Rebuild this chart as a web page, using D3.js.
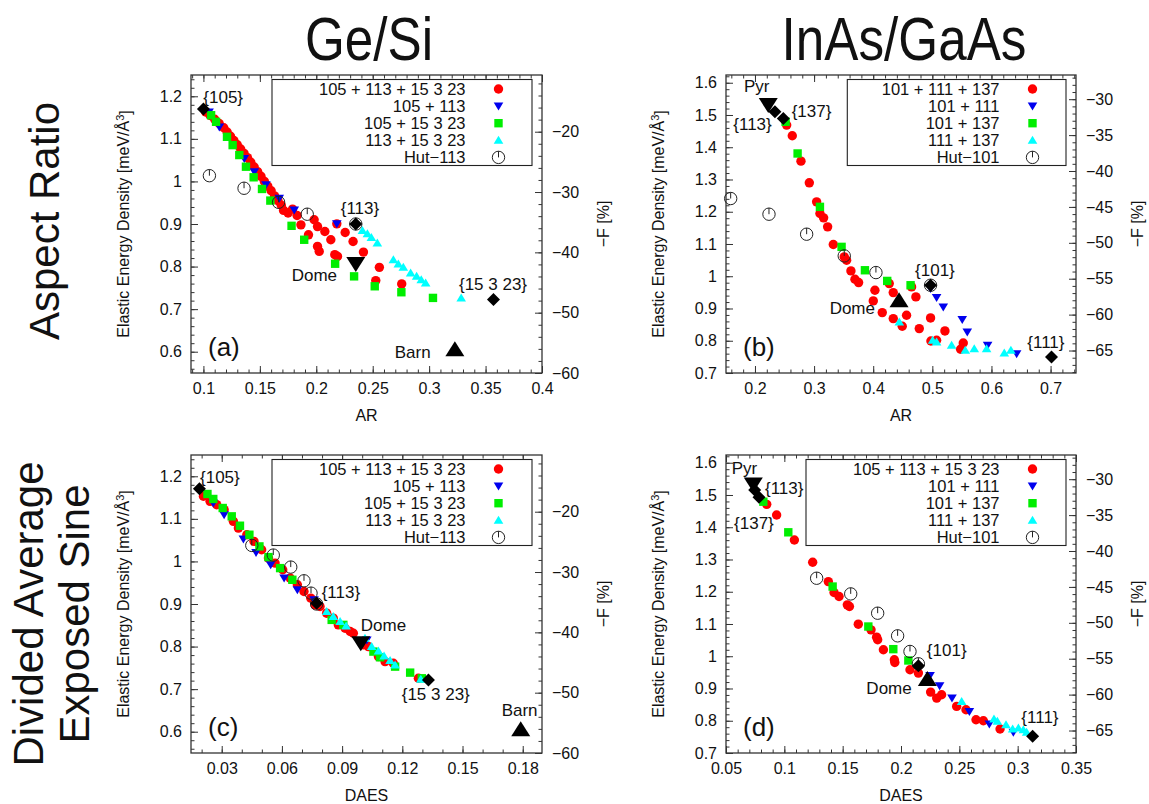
<!DOCTYPE html>
<html>
<head>
<meta charset="utf-8">
<script src="https://cdn.jsdelivr.net/npm/d3@7"></script>
<style>
  body { margin: 0; background: #fff; }
  svg { display: block; }
  text { font-family: "Liberation Sans", Arial, sans-serif; fill: #111; }
</style>
</head>
<body>
<svg id="fig" width="1149" height="804"></svg>
<script>
// ---------------- tick values ----------------
const geYTicks = [0.6, 0.7, 0.8, 0.9, 1.0, 1.1, 1.2];
const geFTicks = [-60, -50, -40, -30, -20];
const inYTicks = [0.7, 0.8, 0.9, 1.0, 1.1, 1.2, 1.3, 1.4, 1.5, 1.6];
const inFTicks = [-65, -60, -55, -50, -45, -40, -35, -30];
const arGeTicks = [0.1, 0.15, 0.2, 0.25, 0.3, 0.35, 0.4];
const arInTicks = [0.2, 0.3, 0.4, 0.5, 0.6, 0.7];
const daesGeTicks = [0.03, 0.06, 0.09, 0.12, 0.15, 0.18];
const daesInTicks = [0.05, 0.1, 0.15, 0.2, 0.25, 0.3, 0.35];

// ---------------- legend entries ----------------
const geLegend = ["105 + 113 + 15 3 23", "105 + 113", "105 + 15 3 23", "113 + 15 3 23", "Hut\u2212113"];
const inLegendB = ["101 + 111 + 137", "101 + 111", "101 + 137", "111 + 137", "Hut\u2212101"];
const inLegendD = ["105 + 113 + 15 3 23", "101 + 111", "101 + 137", "111 + 137", "Hut\u2212101"];

// ---------------- (a) Ge/Si, aspect ratio ----------------
const aRed = [[0.102,1.163],[0.106,1.155],[0.110,1.146],[0.114,1.136],[0.118,1.126],[0.121,1.116],[0.124,1.106],[0.127,1.096],[0.130,1.086],[0.133,1.076],[0.136,1.066],[0.139,1.056],[0.142,1.045],[0.145,1.034],[0.148,1.023],[0.151,1.012],[0.154,1.000],[0.157,0.989],[0.160,0.978],[0.163,0.966],[0.166,0.955],[0.169,0.944],[0.171,0.932],[0.175,0.926],[0.179,0.935],[0.183,0.920],[0.1864,0.898],[0.1981,0.910],[0.2011,0.894],[0.2076,0.8825],[0.1931,0.8746],[0.2011,0.8473],[0.2026,0.8356],[0.2129,0.8629],[0.2164,0.828],[0.2188,0.8239],[0.2182,0.9004],[0.2256,0.8801],[0.2326,0.859],[0.2418,0.834],[0.2559,0.7982],[0.2527,0.767],[0.2757,0.7592]];
const aBlue = [[0.105,1.163],[0.1141,1.128],[0.1362,1.054],[0.1451,1.023],[0.1554,0.992],[0.1672,0.9605],[0.1805,0.933],[0.2182,0.9004]];
const aGreen = [[0.1068,1.1555],[0.1112,1.140],[0.1209,1.1048],[0.1259,1.0853],[0.1318,1.062],[0.1377,1.0346],[0.1445,1.0097],[0.1519,0.9823],[0.1593,0.955],[0.1781,0.8957],[0.1893,0.863],[0.2167,0.8067],[0.2335,0.777],[0.2518,0.7537],[0.2754,0.7397],[0.3034,0.7264]];
const aCyan = [[0.2409,0.8848],[0.2453,0.877],[0.2488,0.8684],[0.2541,0.8551],[0.2683,0.8161],[0.2727,0.806],[0.2771,0.7982],[0.2836,0.7849],[0.2889,0.7771],[0.2930,0.7693],[0.2969,0.7615],[0.3284,0.7264]];
const aHut = [[0.1053,1.0135],[0.136,0.984],[0.1666,0.951],[0.192,0.923],[0.235,0.900]];
const aShapes = [["diamond",0.1,1.17],["diamond",0.235,0.900],["diamond",0.357,0.7225],["down",0.235,0.806],["up",0.3228,0.6055]];
const aNotes = [["{105}",0.0999,1.199],["{113}",0.2387,0.9383],["Dome",0.2184,0.780],["{15 3 23}",0.3566,0.759],["Barn",0.2854,0.600]];

// ---------------- (b) InAs/GaAs, aspect ratio ----------------
const bRed = [[0.2536,1.4686],[0.2631,1.4355],[0.2778,1.3569],[0.2919,1.2897],[0.3043,1.2307],[0.3099,1.1945],[0.3161,1.181],[0.3229,1.1531],[0.3325,1.0983],[0.351,1.06],[0.355,1.0497],[0.3623,1.0166],[0.3691,0.9907],[0.3753,0.9804],[0.4001,0.9235],[0.4029,0.9566],[0.4153,0.8873],[0.4271,0.9773],[0.4339,0.9493],[0.4339,0.8687],[0.4491,0.8448],[0.4564,0.879],[0.4649,0.9669],[0.4722,0.9359],[0.4779,0.8376],[0.4970,0.8707],[0.4976,0.7993],[0.5072,0.8014],[0.5213,0.8304],[0.5523,0.7931],[0.5478,0.7735]];
const bBlue = [[0.497,0.9617],[0.5072,0.9338],[0.5185,0.9049],[0.5506,0.8655],[0.5591,0.8273],[0.5935,0.7859],[0.6426,0.76]];
const bGreen = [[0.2518,1.479],[0.2721,1.3807],[0.3099,1.2152],[0.3465,1.0911],[0.386,1.0186],[0.4237,0.9855],[0.4632,0.9721]];
const bCyan = [[0.4441,0.8583],[0.5005,0.8014],[0.5072,0.7962],[0.5326,0.7859],[0.5557,0.7704],[0.5709,0.7755],[0.5918,0.7755],[0.6217,0.7621],[0.6329,0.7704]];
const bHut = [[0.1589,1.241],[0.2237,1.1924],[0.2874,1.1304],[0.351,1.0631],[0.4046,1.0114],[0.497,0.9721]];
const bShapes = [["down",0.2225,1.5307],["diamond",0.2338,1.510],["diamond",0.2479,1.4893],["diamond",0.497,0.972],["diamond",0.7016,0.7497],["up",0.4437,0.9255]];
const bNotes = [["Pyr",0.1814,1.5905],["{113}",0.1633,1.4729],["{137}",0.2621,1.5114],["{101}",0.5044,1.0193],["Dome",0.403,0.9006],["{111}",0.6921,0.797]];

// ---------------- (c) Ge/Si, DAES ----------------
const cRed = [[0.0209,1.153],[0.0242,1.1412],[0.0275,1.1333],[0.0312,1.1216],[0.0358,1.0941],[0.0383,1.0784],[0.0425,1.0627],[0.0461,1.0471],[0.0499,1.0275],[0.0533,1.0078],[0.0566,0.9961],[0.0604,0.9804],[0.0641,0.9608],[0.0677,0.9451],[0.071,0.9294],[0.0744,0.9137],[0.0765,0.898],[0.079,0.8941],[0.0823,0.8784],[0.0856,0.8667],[0.0881,0.851],[0.0915,0.8431],[0.094,0.8353],[0.0956,0.8314],[0.1006,0.8039],[0.1031,0.800],[0.1081,0.7765],[0.1114,0.7647],[0.1155,0.7608],[0.128,0.7255]];
const cBlue = [[0.0258,1.1373],[0.0312,1.1098],[0.0408,1.0525],[0.0471,1.0212],[0.0544,0.9922],[0.0611,0.9608],[0.0677,0.9333],[0.076,0.9098],[0.1023,0.8157]];
const cGreen = [[0.0229,1.1584],[0.0258,1.1467],[0.0305,1.1255],[0.035,1.1059],[0.0391,1.0839],[0.0438,1.0627],[0.0488,1.0353],[0.0533,1.0102],[0.0591,0.9843],[0.0652,0.9569],[0.0848,0.8627],[0.0906,0.851],[0.1056,0.7882],[0.1089,0.7749],[0.1164,0.7529],[0.1239,0.7388],[0.1297,0.7255]];
const cCyan = [[0.0823,0.8824],[0.0856,0.8706],[0.089,0.8588],[0.092,0.8486],[0.1014,0.8196],[0.1047,0.800],[0.1081,0.7898],[0.1109,0.778],[0.1139,0.7671],[0.1164,0.7569],[0.1292,0.7231]];
const cHut = [[0.045,1.0376],[0.0557,1.0149],[0.0644,0.9867],[0.071,0.9545],[0.0745,0.9255],[0.0773,0.900]];
const cShapes = [["diamond",0.0189,1.171],["diamond",0.0773,0.902],["diamond",0.133,0.7216],["down",0.0993,0.808],["up",0.179,0.6055]];
const cNotes = [["{105}",0.0192,1.199],["{113}",0.0798,0.9289],["Dome",0.0993,0.8503],["{15 3 23}",0.1197,0.6886],["Barn",0.1695,0.651]];

// ---------------- (d) InAs/GaAs, DAES ----------------
const dRed = [[0.0849,1.471],[0.0934,1.438],[0.1086,1.3606],[0.1243,1.2914],[0.1377,1.2315],[0.1426,1.1975],[0.1469,1.1851],[0.154,1.1593],[0.1558,1.1541],[0.1634,1.0994],[0.1743,1.0819],[0.1791,1.0592],[0.18,1.051],[0.1849,1.02],[0.1943,0.989],[0.1947,0.9807],[0.2077,0.958],[0.2149,0.9477],[0.2254,0.8889],[0.2306,0.8703],[0.2348,0.8806],[0.2477,0.8445],[0.2557,0.8342],[0.2643,0.8032],[0.2706,0.8001],[0.2849,0.7743]];
const dBlue = [[0.2249,0.9405],[0.2331,0.9085],[0.2437,0.8703],[0.2586,0.829],[0.2757,0.7898],[0.2963,0.764]];
const dGreen = [[0.082,1.4792],[0.1034,1.3843],[0.1414,1.2161],[0.172,1.0922],[0.1934,1.022],[0.2063,0.9869]];
const dCyan = [[0.252,0.86],[0.2797,0.8053],[0.2826,0.7981],[0.29,0.7877],[0.2957,0.7743],[0.3006,0.7774],[0.3049,0.7722],[0.3077,0.764]];
const dHut = [[0.1277,1.2419],[0.1569,1.1933],[0.18,1.1335],[0.1971,1.0633],[0.2077,1.0148],[0.2149,0.9766]];
const dShapes = [["down",0.0734,1.5329],["diamond",0.0746,1.5154],["diamond",0.0783,1.4927],["diamond",0.2149,0.9704],["diamond",0.3128,0.7516],["up",0.2226,0.9291]];
const dNotes = [["Pyr",0.0549,1.5828],["{113}",0.0834,1.5208],["{137}",0.0569,1.4123],["{101}",0.2392,1.0194],["Dome",0.2092,0.9006],["{111}",0.3191,0.8107]];

// ---------------- drawing ----------------
const svg = d3.select("#fig");
const COLORS = { red: "#ff0000", blue: "#0000ee", green: "#00ee00", cyan: "#00ffff" };

function markerPath(kind) {
  switch (kind) {
    case "tri-down": return "M0,4.5L4.8,-3.5L-4.8,-3.5Z";
    case "tri-up": return "M0,-4.5L4.8,3.5L-4.8,3.5Z";
    case "square": return "M-4.2,-4.2H4.2V4.2H-4.2Z";
    case "diamond": return "M0,-6.5L6.5,0L0,6.5L-6.5,0Z";
    case "down": return "M0,8L9.5,-7L-9.5,-7Z";
    case "up": return "M0,-8L9.5,7L-9.5,7Z";
  }
}

function drawMarker(g, kind, x, y, color) {
  if (kind === "circle") {
    g.append("circle").attr("cx", x).attr("cy", y).attr("r", 4.7).attr("fill", color);
  } else if (kind === "hut") {
    g.append("circle").attr("cx", x).attr("cy", y).attr("r", 6.2)
      .attr("fill", "none").attr("stroke", "#222").attr("stroke-width", 1);
    g.append("line").attr("x1", x).attr("y1", y).attr("x2", x).attr("y2", y - 6.2)
      .attr("stroke", "#222").attr("stroke-width", 1);
  } else {
    g.append("path").attr("d", markerPath(kind))
      .attr("transform", `translate(${x},${y})`).attr("fill", color);
  }
}

function minorValues(domain, step) {
  const lo = Math.min(domain[0], domain[1]), hi = Math.max(domain[0], domain[1]);
  const out = [];
  for (let k = Math.ceil(lo / step - 1e-9); k * step <= hi + 1e-9; k++) out.push(k * step);
  return out;
}

function drawPanel(p) {
  const g = svg.append("g");
  const x = d3.scaleLinear().domain(p.xd).range([p.left, p.left + p.w]);
  const y = d3.scaleLinear().domain(p.yd).range([p.top + p.h, p.top]);
  const y2 = d3.scaleLinear().domain(p.y2d).range([p.top + p.h, p.top]);
  const fmt = d3.format("~g");
  const tickStyle = sel => {
    sel.select(".domain").remove();
    sel.selectAll("line").attr("stroke", "#333").attr("stroke-width", 1);
    sel.selectAll("text").attr("font-size", 16).attr("fill", "#111")
      .attr("font-family", "Liberation Sans, Arial, sans-serif");
  };

  // minor ticks
  const minorX = minorValues(p.xd, p.xMinor);
  const minorY = minorValues(p.yd, p.yMinor);
  const minorY2 = minorValues(p.y2d, p.y2Minor);
  g.append("g").attr("transform", `translate(0,${p.top + p.h})`)
    .call(d3.axisBottom(x).tickValues(minorX).tickSize(-3.5).tickFormat("")).call(tickStyle);
  g.append("g").attr("transform", `translate(0,${p.top})`)
    .call(d3.axisTop(x).tickValues(minorX).tickSize(-3.5).tickFormat("")).call(tickStyle);
  g.append("g").attr("transform", `translate(${p.left},0)`)
    .call(d3.axisLeft(y).tickValues(minorY).tickSize(-3.5).tickFormat("")).call(tickStyle);
  g.append("g").attr("transform", `translate(${p.left + p.w},0)`)
    .call(d3.axisRight(y2).tickValues(minorY2).tickSize(-3.5).tickFormat("")).call(tickStyle);

  // major ticks and labels
  g.append("g").attr("transform", `translate(0,${p.top + p.h})`)
    .call(d3.axisBottom(x).tickValues(p.xTicks).tickSize(-7).tickPadding(10).tickFormat(fmt)).call(tickStyle);
  g.append("g").attr("transform", `translate(0,${p.top})`)
    .call(d3.axisTop(x).tickValues(p.xTicks).tickSize(-7).tickFormat("")).call(tickStyle);
  g.append("g").attr("transform", `translate(${p.left},0)`)
    .call(d3.axisLeft(y).tickValues(p.yTicks).tickSize(-7).tickPadding(9).tickFormat(fmt)).call(tickStyle);
  g.append("g").attr("transform", `translate(${p.left + p.w},0)`)
    .call(d3.axisRight(y2).tickValues(p.y2Ticks).tickSize(-7).tickPadding(10).tickFormat(d3.format("d"))).call(tickStyle);

  // frame
  g.append("rect").attr("x", p.left).attr("y", p.top).attr("width", p.w).attr("height", p.h)
    .attr("fill", "none").attr("stroke", "#333").attr("stroke-width", 1.3);

  // points
  const pts = g.append("g");
  p.red.forEach(d => drawMarker(pts, "circle", x(d[0]), y(d[1]), COLORS.red));
  p.blue.forEach(d => drawMarker(pts, "tri-down", x(d[0]), y(d[1]), COLORS.blue));
  p.green.forEach(d => drawMarker(pts, "square", x(d[0]), y(d[1]), COLORS.green));
  p.cyan.forEach(d => drawMarker(pts, "tri-up", x(d[0]), y(d[1]), COLORS.cyan));
  p.hut.forEach(d => drawMarker(pts, "hut", x(d[0]), y(d[1])));
  p.shapes.forEach(d => drawMarker(pts, d[0], x(d[1]), y(d[2]), "#000"));

  // annotations
  p.notes.forEach((d, i) => {
    g.append("text").attr("x", x(d[1])).attr("y", y(d[2])).attr("dy", "0.35em")
      .attr("text-anchor", p.noteAnchors[i]).attr("font-size", 17).text(d[0]);
  });
  g.append("text").attr("x", p.left + 17).attr("y", p.top + p.h - 26).attr("dy", "0.35em")
    .attr("font-size", 26).text(p.tag);

  // legend
  const lg = g.append("g");
  const lRight = p.left + p.w - 10, lTop = p.top + 4.5;
  lg.append("rect").attr("x", lRight - p.legendW).attr("y", lTop).attr("width", p.legendW).attr("height", 86)
    .attr("fill", "#fff").attr("stroke", "#222").attr("stroke-width", 1.1);
  const kinds = ["circle", "tri-down", "square", "tri-up", "hut"];
  const cols = [COLORS.red, COLORS.blue, COLORS.green, COLORS.cyan, null];
  p.legend.forEach((name, i) => {
    const yy = lTop + 9.5 + i * 17.1;
    lg.append("text").attr("x", lRight - 66.5).attr("y", yy).attr("dy", "0.35em")
      .attr("text-anchor", "end").attr("font-size", 16.5).text(name);
    drawMarker(lg, kinds[i], lRight - 33.5, yy, cols[i]);
  });

  // axis titles
  g.append("text").attr("x", p.left + p.w / 2).attr("y", p.top + p.h + 42).attr("dy", "0.35em")
    .attr("text-anchor", "middle").attr("font-size", 16).text(p.xTitle);
  const yt = g.append("text")
    .attr("transform", `translate(${p.left - 68},${p.top + p.h / 2}) rotate(-90)`)
    .attr("dy", "0.35em").attr("text-anchor", "middle").attr("font-size", 16);
  yt.append("tspan").text("Elastic Energy Density [meV/\u00C5");
  yt.append("tspan").attr("dy", "-0.45em").attr("font-size", 11).text("3");
  yt.append("tspan").attr("dy", "0.45em").text("]");
  g.append("text")
    .attr("transform", `translate(${p.left + p.w + 61},${p.top + p.h / 2}) rotate(-90)`)
    .attr("dy", "0.35em").attr("text-anchor", "middle").attr("font-size", 16).text("\u2212F [%]");
}

const panels = [
  { tag: "(a)", left: 191, top: 75, w: 351, h: 298, xd: [0.089, 0.4], yd: [0.55, 1.25], y2d: [-60, -10.6],
    xTicks: arGeTicks, xMinor: 0.01, yTicks: geYTicks, yMinor: 0.02, y2Ticks: geFTicks, y2Minor: 2,
    red: aRed, blue: aBlue, green: aGreen, cyan: aCyan, hut: aHut, shapes: aShapes, notes: aNotes,
    noteAnchors: ["start", "middle", "end", "middle", "middle"], legend: geLegend, legendW: 260, xTitle: "AR" },
  { tag: "(b)", left: 726, top: 75, w: 350, h: 298, xd: [0.151, 0.743], yd: [0.7, 1.624], y2d: [-68.13, -26.63],
    xTicks: arInTicks, xMinor: 0.02, yTicks: inYTicks, yMinor: 0.02, y2Ticks: inFTicks, y2Minor: 1,
    red: bRed, blue: bBlue, green: bGreen, cyan: bCyan, hut: bHut, shapes: bShapes, notes: bNotes,
    noteAnchors: ["start", "start", "start", "middle", "end", "middle"], legend: inLegendB, legendW: 218.7, xTitle: "AR" },
  { tag: "(c)", left: 191, top: 455, w: 351, h: 298, xd: [0.0147, 0.1896], yd: [0.55, 1.25], y2d: [-60, -10.6],
    xTicks: daesGeTicks, xMinor: 0.01, yTicks: geYTicks, yMinor: 0.02, y2Ticks: geFTicks, y2Minor: 2,
    red: cRed, blue: cBlue, green: cGreen, cyan: cCyan, hut: cHut, shapes: cShapes, notes: cNotes,
    noteAnchors: ["start", "start", "start", "start", "start"], legend: geLegend, legendW: 260, xTitle: "DAES" },
  { tag: "(d)", left: 726, top: 455, w: 350, h: 298, xd: [0.05, 0.35], yd: [0.7, 1.624], y2d: [-68.13, -26.63],
    xTicks: daesInTicks, xMinor: 0.01, yTicks: inYTicks, yMinor: 0.02, y2Ticks: inFTicks, y2Minor: 1,
    red: dRed, blue: dBlue, green: dGreen, cyan: dCyan, hut: dHut, shapes: dShapes, notes: dNotes,
    noteAnchors: ["start", "start", "start", "middle", "end", "middle"], legend: inLegendD, legendW: 260, xTitle: "DAES" }
];
panels.forEach(drawPanel);

// column headings
[["Ge/Si", 369], ["InAs/GaAs", 904]].forEach(([t, cx]) => {
  svg.append("text").attr("transform", `translate(${cx},60) scale(0.84,1)`)
    .attr("text-anchor", "middle").attr("font-size", 61).text(t);
});

// row headings
const rowFont = "DejaVu Sans, sans-serif";
svg.append("text").attr("transform", "translate(59,221) rotate(-90)")
  .attr("text-anchor", "middle").attr("font-family", rowFont).attr("font-size", 42).text("Aspect Ratio");
svg.append("text").attr("transform", "translate(43,614) rotate(-90)")
  .attr("text-anchor", "middle").attr("font-family", rowFont).attr("font-size", 42).text("Divided Average");
svg.append("text").attr("transform", "translate(89,614) rotate(-90)")
  .attr("text-anchor", "middle").attr("font-family", rowFont).attr("font-size", 42).text("Exposed Sine");
</script>
</body>
</html>
